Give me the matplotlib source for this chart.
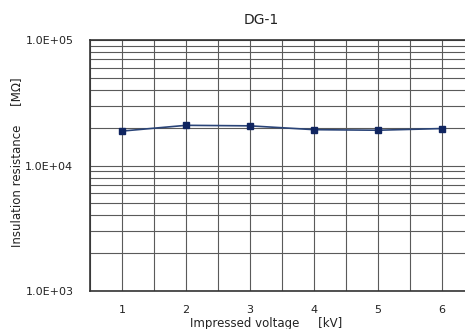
import math
import matplotlib
matplotlib.use("Agg")
import matplotlib.pyplot as plt
from matplotlib.ticker import FixedLocator, LogLocator, NullFormatter, FuncFormatter

voltage_kv = [1, 2, 3, 4, 5, 6]
resistance_mohm = [18800, 20900, 20700, 19300, 19100, 19700]
title = "DG-1"
xlabel = "Impressed voltage     [kV]"
ylabel = "Insulation resistance     [MΩ]"

W, H = 465, 329
fig = plt.figure(figsize=(W / 100, H / 100), dpi=100)
left, right, top, bottom = 90, 474, 40, 291
ax = fig.add_axes([left / W, 1 - bottom / H, (right - left) / W, (bottom - top) / H])

ax.plot(voltage_kv, resistance_mohm, color="#2a4478", lw=1.2,
        marker="s", ms=5, mfc="#102560", mec="#102560", zorder=3)

ax.set_yscale("log")
ax.set_ylim(1e3, 1e5)
ax.set_xlim(0.5, 6.5)
ax.set_xticks(voltage_kv)
ax.xaxis.set_minor_locator(FixedLocator([x + 0.5 for x in range(0, 7)]))
ax.yaxis.set_major_locator(FixedLocator([1e3, 1e4, 1e5]))
ax.yaxis.set_minor_locator(LogLocator(base=10, subs=range(2, 10)))
ax.yaxis.set_minor_formatter(NullFormatter())
ax.yaxis.set_major_formatter(FuncFormatter(lambda v, p: "1.0E+%02d" % round(math.log10(v))))

ax.grid(which="both", axis="both", color="#5a5a5a", lw=0.8)
ax.set_axisbelow(True)
ax.tick_params(which="both", length=0, labelsize=8, colors="#222222")
ax.tick_params(axis="x", pad=10)
ax.tick_params(axis="y", pad=12)
for s in ax.spines.values():
    s.set_color("#333333")
    s.set_linewidth(1.2)

fig.text(261 / W, 1 - 20 / H, title, ha="center", va="center", fontsize=10, color="#222222")
fig.text(266 / W, 1 - 323 / H, xlabel, ha="center", va="center", fontsize=8.5, color="#222222")
fig.text(17 / W, 1 - 162 / H, ylabel, ha="center", va="center", rotation=90, fontsize=8.5, color="#222222")

fig.savefig("out.png", dpi=100)
